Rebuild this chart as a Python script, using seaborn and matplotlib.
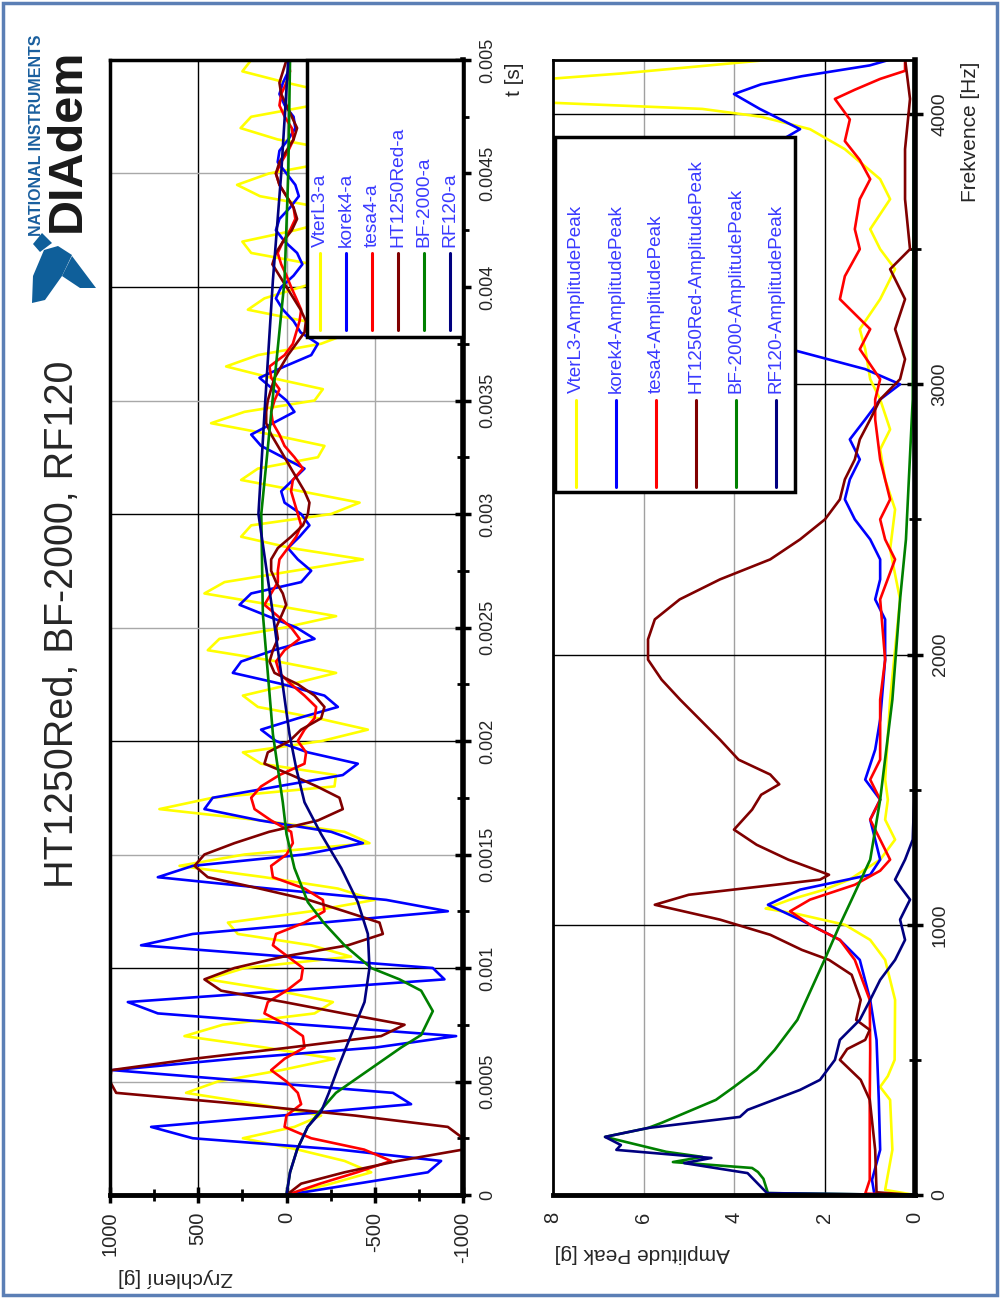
import numpy as np
import pandas as pd
import matplotlib
matplotlib.use("Agg")
import matplotlib.pyplot as plt
from matplotlib.patches import Rectangle, Polygon
from matplotlib.lines import Line2D
import seaborn as sns

sns.set_style("white")
plt.rcParams["font.family"] = ["Liberation Sans", "DejaVu Sans"]

# ---- time signals, acceleration [g], sampled every 50 us ----
t = np.linspace(0, 0.005, 101)

vterl3 = [0, -253, -480, -329, -64, 247, -45, -196, 162, 569,
          389, 30, -272, 125, 578, 361, -159, -263, 49, 446,
          238, -366, -140, 276, 332, -140, -499, -291, 125, 606,
          238, -470, -329, 144, 720, 418, -272, -280, 144, 247,
          -200, -461, -178, 162, 247, -26, -281, 49, 446, 380,
          11, -281, 87, 465, 351, -45, -433, -26, 257, 200,
          -253, -414, -83, 257, 162, -178, -215, 87, 427, 238,
          -159, -206, 87, 342, 162, -196, -366, -102, 219, 125,
          -83, -300, -150, 200, 250, -50, -300, -200, 150, 280,
          100, -250, -300, 50, 260, 200, -150, -280, 0, 250, 200]

korek4 = [0, -400, -801, -876, -300, 531, 767, 30, -706, -603,
          190, 984, 300, -508, -961, -100, 729, 899, 0, -895,
          -829, 0, 824, 531, -200, -914, -565, 100, 729, 531,
          -100, -433, -253, 150, 465, 418, 50, -319, -404, -121,
          60, 144, -64, -291, -215, 21, 304, 257, 72, -159,
          -55, 106, 266, 200, -83, -140, -64, -8, -74, -130,
          -83, 11, 30, -36, -102, 21, 144, 200, 77, -45,
          0, 77, 153, 11, -140, -178, -80, -40, 20, 60,
          30, -40, -90, -60, 10, 60, 40, -20, -70, -50,
          0, 50, 40, -10, -50, -40, 10, 40, 20, -10, -20]

tesa4 = [0, -190, -400, -593, -440, -140, 11, 0, -83, -64,
         0, 87, 11, -102, -93, 0, 125, 106, 0, -83,
         -93, -8, 77, 59, -102, -215, -206, -102, 77, 87,
         0, -36, -26, 87, 181, 200, 144, 40, -102, -111,
         -64, -102, -159, -168, -102, -26, 40, 59, 11, -74,
         -26, 49, 125, 87, 49, 49, 40, -8, -55, -83,
         -64, -45, -26, -36, -93, -45, 11, 40, 77, 87,
         68, 40, 87, 96, 11, -36, -55, -74, -83, -55,
         -26, 0, 30, 50, 20, -20, -50, -40, 0, 40,
         60, 30, -10, -40, -30, 10, 40, 30, 0, -20, -10]

ht1250 = [0, -83, -329, -631, -999, -1000, -914, -387, 251, 965,
          1000, 993, 527, -21, -536, -669, -323, 13, 370, 465,
          295, 19, -348, -546, -527, -329, -125, 153, 446, 521,
          465, 295, 98, -178, -319, -300, -172, -28, 125, 106,
          -17, -83, -196, -215, -159, -64, 68, 96, 77, 49,
          59, 30, 2, 21, 59, 87, 87, 49, -26, -93,
          -121, -130, -102, -64, -26, 11, 49, 87, 115, 115,
          106, 87, 68, 30, -8, -55, -102, -110, -80, -40,
          0, 40, 80, 60, 20, -30, -60, -40, 0, 40,
          60, 40, 0, -40, -60, -30, 0, 30, 40, 20, 0]

# smooth signals read at their own time points (ms)
bf2000_t = [0, 0.1, 0.2, 0.3, 0.37, 0.45, 0.558, 0.65, 0.705, 0.81, 0.9, 0.95, 1.0, 1.1,
            1.2, 1.29, 1.44, 1.59, 1.73, 1.88, 2.03, 2.56, 3.0, 3.44, 4.03, 4.5, 5.0]
bf2000 = [0, -20, -60, -120, -190, -280, -480, -650, -763, -829, -763, -640, -480, -329,
          -210, -121, -45, 0, 21, 49, 77, 134, 143, 87, 11, -10, -20]
rf120_t = [0, 0.1, 0.2, 0.3, 0.367, 0.45, 0.558, 0.705, 0.85, 1.0, 1.15, 1.29, 1.44, 1.59,
           1.73, 1.88, 2.03, 2.56, 3.0, 3.44, 4.03, 4.5, 5.0]
rf120 = [0, -20, -60, -120, -196, -240, -291, -366, -442, -470, -461, -404, -310, -196,
         -102, -55, -17, 77, 159, 125, 77, 30, -10]

# ---- spectra, amplitude peak [g] vs frequency [Hz] ----
vterl3_f = [0, 19, 167, 352, 400, 440, 500, 722, 870, 944, 1000, 1040, 1060, 1093, 1130, 1167,
            1241, 1315, 1389, 1463, 1537, 1833, 2204, 2389, 2537, 2648, 2759, 2833, 2944, 3019,
            3130, 3204, 3315, 3426, 3500, 3574, 3685, 3759, 3870, 3944, 3990, 4019, 4045, 4125,
            4150, 4204]
vterl3_amp = [0, 0.66, 0.5, 0.55, 0.77, 0.6, 0.45, 0.44, 0.66, 0.99, 1.55, 2.6, 3.3, 2.76, 2.0, 1.45,
              0.77, 0.44, 0.66, 0.6, 0.66, 0.55, 0.33, 0.55, 0.44, 0.66, 0.77, 0.55, 0.77, 0.99,
              1.1, 1.22, 0.77, 0.44, 0.77, 0.99, 0.55, 0.77, 1.55, 2.32, 3.4, 4.7, 8.5, 8.5,
              6.5, 3.0]

korek4_f = [0, 5, 56, 167, 352, 574, 722, 870, 944, 1019, 1074, 1130, 1185, 1241, 1315, 1389,
            1463, 1537, 1648, 1759, 1981, 2130, 2204, 2278, 2352, 2426, 2500, 2574, 2648, 2722,
            2796, 2870, 2944, 3000, 3056, 3130, 3200, 3300, 3500, 3700, 3850, 3944, 4019, 4074,
            4110, 4140, 4180, 4204]
korek4_amp = [0, 0.9, 0.95, 0.77, 0.8, 0.85, 0.99, 1.22, 1.66, 2.54, 3.25, 2.54, 0.99, 0.77, 0.88, 0.99,
              0.77, 1.1, 0.88, 0.77, 0.66, 0.66, 0.88, 0.77, 0.77, 0.99, 1.33, 1.55, 1.44, 1.22,
              1.44, 1.1, 0.77, 0.33, 1.1, 2.76, 4.5, 6.0, 6.5, 5.0, 3.5, 2.54, 3.43, 4.0,
              3.4, 2.5, 1.0, 0.5]

tesa4_f = [0, 5, 56, 167, 352, 537, 722, 870, 944, 1000, 1050, 1093, 1148, 1200, 1241, 1315,
           1389, 1463, 1537, 1611, 1833, 1981, 2204, 2352, 2426, 2500, 2574, 2722, 2870, 2944,
           3019, 3130, 3204, 3315, 3400, 3500, 3574, 3685, 3759, 3830, 3900, 3980, 4056, 4090,
           4130, 4160, 4204]
tesa4_amp = [0, 1.1, 1.0, 1.0, 1.0, 0.99, 1.0, 1.33, 1.66, 2.32, 2.76, 2.32, 1.33, 0.77, 0.55, 0.77,
             0.99, 0.77, 0.99, 0.77, 0.77, 0.66, 0.77, 0.44, 0.66, 0.77, 0.55, 0.77, 0.88, 0.88,
             0.77, 1.22, 0.99, 1.66, 1.55, 1.22, 1.33, 1.22, 0.99, 1.22, 1.55, 1.44, 1.77, 1.33,
             0.77, 0.22, 0.22]

ht1250_f = [0, 10, 167, 352, 426, 500, 540, 574, 611, 648, 722, 815, 870, 907, 963, 1019,
            1074, 1111, 1167, 1185, 1241, 1296, 1352, 1389, 1426, 1481, 1520, 1556, 1611, 1685,
            1759, 1833, 1907, 1981, 2056, 2130, 2204, 2278, 2352, 2426, 2500, 2574, 2648, 2722,
            2796, 2870, 2944, 3019, 3093, 3204, 3315, 3426, 3500, 3685, 3870, 4056, 4204]
ht1250_amp = [0, 0.85, 0.88, 1.0, 1.2, 1.66, 1.5, 1.1, 1.0, 1.3, 1.2, 1.4, 1.9, 2.5, 3.2, 4.31,
              5.75, 5.0, 2.1, 1.9, 2.8, 3.5, 4.0, 3.8, 3.6, 3.4, 3.0, 3.2, 3.9, 4.31,
              4.75, 5.19, 5.6, 5.9, 5.9, 5.75, 5.2, 4.31, 3.2, 2.54, 1.99, 1.66, 1.55, 1.33,
              1.22, 0.99, 0.77, 0.33, 0.22, 0.44, 0.22, 0.55, 0.11, 0.22, 0.22, 0.11, 0.22]

bf2000_f = [0, 7, 60, 85, 100, 122, 141, 160, 215, 248, 267, 352, 400, 463, 537, 648,
            722, 796, 870, 1000, 1093, 1241, 1463, 1833, 2204, 2426, 2944, 4204]
bf2000_amp = [0, 3.25, 3.35, 3.47, 3.6, 5.35, 4.7, 5.5, 6.85, 5.9, 5.6, 4.4, 4.0, 3.5, 3.1, 2.6,
              2.4, 2.2, 2.0, 1.66, 1.4, 0.99, 0.77, 0.5, 0.33, 0.2, 0.05, 0.02]

rf120_f = [0, 7, 81, 118, 137, 167, 185, 215, 248, 289, 315, 389, 426, 500, 574, 648,
           722, 796, 870, 944, 1019, 1093, 1167, 1241, 1315, 1463, 4204]
rf120_amp = [0, 3.27, 3.7, 5.1, 4.5, 6.6, 6.5, 6.85, 5.9, 3.87, 3.7, 2.54, 2.1, 1.77, 1.66, 1.22,
             0.99, 0.77, 0.44, 0.22, 0.33, 0.11, 0.44, 0.22, 0.05, 0.02, 0.02]

names = ["VterL3", "korek4", "tesa4", "HT1250Red", "BF-2000", "RF120"]
colors = ["#ffff00", "#0000ff", "#ff0000", "#800000", "#008000", "#000080"]

W, H = 1000, 1298
fig = plt.figure(figsize=(W / 100, H / 100), dpi=100)


def fx(x):
    return x / W


def fy(y):
    return 1 - y / H


lw = 1.9

# ---------------- time panel ----------------
ax1 = fig.add_axes([fx(110), fy(1195), (463 - 110) / W, (1195 - 60) / H])
time_series = [
    (vterl3, t), (korek4, t), (tesa4, t), (ht1250, t),
    (bf2000, np.array(bf2000_t) / 1000), (rf120, np.array(rf120_t) / 1000),
]
for (vals, tt), c in zip(time_series, colors):
    sns.lineplot(x=vals, y=tt, orient="y", sort=False, estimator=None,
                 color=c, lw=lw, ax=ax1)
ax1.set_xlim(1000, -1000)
ax1.set_ylim(0, 0.005)
for v, c in [(500, "black"), (0, "#a8a8a8"), (-500, "#a8a8a8")]:
    ax1.axvline(v, color=c, lw=1, zorder=0)
for k in range(1, 10):
    ax1.axhline(k * 0.0005, color="black" if k % 2 == 0 else "#a8a8a8", lw=1, zorder=0)

ax1.set_xticks([1000, 500, 0, -500, -1000])
ax1.set_xticklabels(["1000", "500", "0", "-500", "-1000"], rotation=90, fontsize=14.5)
ax1.set_xticks([750, 250, -250, -750], minor=True)
ax1.yaxis.tick_right()
tlabels = ["0", "0.0005", "0.001", "0.0015", "0.002", "0.0025", "0.003",
           "0.0035", "0.004", "0.0045", "0.005"]
ax1.set_yticks([k * 0.0005 for k in range(11)])
ax1.set_yticklabels(tlabels, rotation=90, va="center", fontsize=13)
ax1.set_yticks([0.00025 + k * 0.0005 for k in range(10)], minor=True)
ax1.tick_params(which="major", direction="inout", length=12, width=2.5, color="black", pad=6)
ax1.tick_params(which="minor", direction="inout", length=8, width=2, color="black")
ax1.tick_params(axis="y", which="both", left=False, right=True)
ax1.tick_params(axis="x", which="both", bottom=True, top=False)
ax1.set_xlabel("")
ax1.set_ylabel("")
for side, w in [("top", 2.5), ("left", 2.5), ("right", 4), ("bottom", 3.5)]:
    ax1.spines[side].set_linewidth(w)
    ax1.spines[side].set_color("black")

# ---------------- spectrum panel ----------------
ax2 = fig.add_axes([fx(553), fy(1195), (915 - 553) / W, (1195 - 60) / H])
spec_series = [
    (vterl3_amp, vterl3_f), (korek4_amp, korek4_f), (tesa4_amp, tesa4_f),
    (ht1250_amp, ht1250_f), (bf2000_amp, bf2000_f), (rf120_amp, rf120_f),
]
for (amp, ff), c in zip(spec_series, colors):
    sns.lineplot(x=amp, y=ff, orient="y", sort=False, estimator=None,
                 color=c, lw=lw, ax=ax2)
ax2.set_xlim(8, 0)
ax2.set_ylim(0, 4200)
for v, c in [(2, "black"), (4, "#a0a0a0"), (6, "#a0a0a0")]:
    ax2.axvline(v, color=c, lw=1, zorder=0)
for v in [1000, 2000, 3000, 4000]:
    ax2.axhline(v, color="black", lw=1, zorder=0)

ax2.set_xticks([8, 6, 4, 2, 0])
ax2.set_xticklabels(["8", "6", "4", "2", "0"], rotation=90, fontsize=14.5)
ax2.set_xticks([7, 5, 3, 1], minor=True)
ax2.yaxis.tick_right()
ax2.set_yticks([0, 1000, 2000, 3000, 4000])
ax2.set_yticklabels(["0", "1000", "2000", "3000", "4000"], rotation=90, va="center", fontsize=14)
ax2.set_yticks([500, 1500, 2500, 3500], minor=True)
ax2.tick_params(which="major", direction="inout", length=12, width=2.5, color="black", pad=6)
ax2.tick_params(which="minor", direction="inout", length=8, width=2, color="black")
ax2.tick_params(axis="y", which="both", left=False, right=True)
ax2.set_xlabel("")
ax2.set_ylabel("")
for side, w in [("top", 2), ("left", 2), ("right", 4), ("bottom", 3.5)]:
    ax2.spines[side].set_linewidth(w)
    ax2.spines[side].set_color("black")

# ---------------- legends ----------------
legend_blue = "#3a3aff"


def draw_legend(x0, x1, y0, y1, xs, line_top, line_bot, text_y, labels, size):
    fig.add_artist(Rectangle((fx(x0), fy(y1)), (x1 - x0) / W, (y1 - y0) / H,
                             transform=fig.transFigure, facecolor="white",
                             edgecolor="black", lw=2.5, zorder=5))
    for x, lab, c in zip(xs, labels, colors):
        fig.add_artist(Line2D([fx(x), fx(x)], [fy(line_bot), fy(line_top)],
                              transform=fig.transFigure, color=c, lw=2.2, zorder=6))
        fig.text(fx(x), fy(text_y), lab, rotation=90, ha="center", va="bottom",
                 fontsize=size, color=legend_blue, zorder=6)


draw_legend(307, 463, 60, 337, [320, 346, 372, 398, 424, 450], 253, 330, 247,
            [n + "-a" for n in names], 13.8)
draw_legend(555, 795, 137, 492, [576, 616, 656, 696, 736, 776], 400, 487, 393,
            [n + "-AmplitudePeak" for n in names], 13.6)

# ---------------- texts ----------------
fig.text(fx(62), fy(624), "HT1250Red, BF-2000, RF120", rotation=90,
         ha="center", va="center", fontsize=28.5)
fig.text(fx(515), fy(62), "t [s]", rotation=90, ha="center", va="top", fontsize=15)
fig.text(fx(118), fy(1278), "Zrychlení [g]", rotation=180, ha="left", va="center", fontsize=15)
fig.text(fx(970), fy(62), "Frekvence [Hz]", rotation=90, ha="center", va="top", fontsize=15)
fig.text(fx(555), fy(1253), "Amplitude Peak [g]", rotation=180, ha="left", va="center", fontsize=15)

# logo
fig.text(fx(37), fy(236), "NATIONAL INSTRUMENTS", rotation=90, ha="center", va="bottom",
         fontsize=11.5, fontweight="bold", color="#1a5f9e")
fig.text(fx(67), fy(232), "DIAdem", rotation=90, ha="center", va="bottom",
         fontsize=35, fontweight="bold", color="#1a1a1a")
eagle = [(32, 303), (33, 276), (44, 250), (58, 246), (72, 255), (62, 276), (45, 300)]
tail = [(62, 276), (72, 256), (96, 288), (80, 288)]
head = [(33, 244), (42, 233), (52, 243), (40, 252)]
for poly in (eagle, tail, head):
    fig.add_artist(Polygon([(fx(a), fy(b)) for a, b in poly], closed=True,
                           transform=fig.transFigure, facecolor="#0f5f9a", edgecolor="none"))

# page border
fig.add_artist(Rectangle((0.003, 0.002), 0.994, 0.996, transform=fig.transFigure,
                         fill=False, edgecolor="#5b7fb5", lw=2.5))

fig.savefig("out.png", dpi=100)
